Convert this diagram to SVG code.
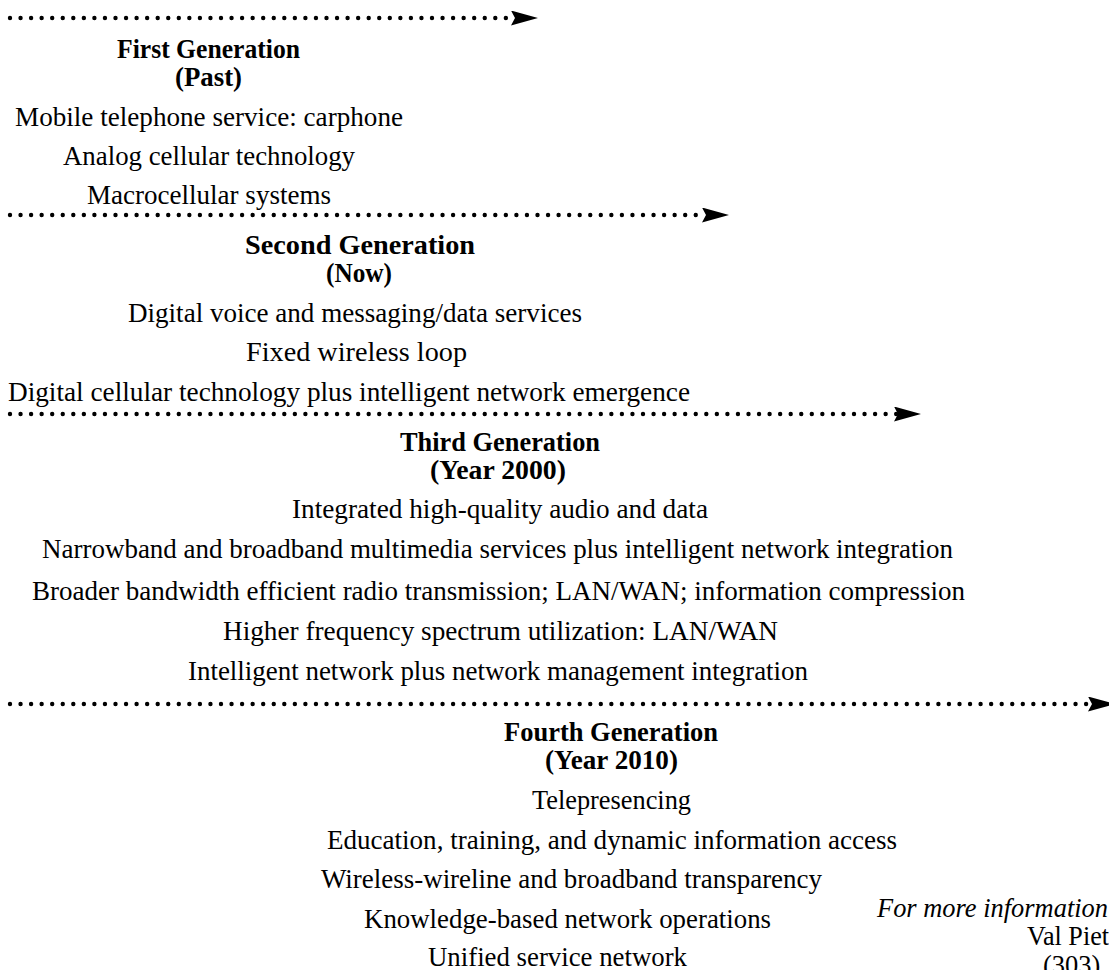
<svg xmlns="http://www.w3.org/2000/svg" width="1109" height="970" viewBox="0 0 1109 970">
  <defs>
    <marker id="head" markerUnits="userSpaceOnUse" markerWidth="27" markerHeight="15" viewBox="0 0 27 15" refX="4" refY="7.5" orient="auto">
      <path d="M0,0 L27,7.5 L0,15 L4,7.5 Z" fill="#000"/>
    </marker>
    <style>
      .timeline { fill: none; stroke: #000; stroke-width: 4.4; stroke-linecap: round; stroke-dasharray: 0 10.55; marker-end: url(#head); }
      text { font-family: "Liberation Serif", "Times New Roman", serif; font-size: 26.5px; fill: #000; }
      .head { font-weight: bold; }
      .note { font-style: italic; }
    </style>
  </defs>
  <rect width="1109" height="970" fill="#fff"/>

  <!-- dotted timeline arrows separating the generations -->
  <g id="connectors">
    <path class="timeline" d="M10,18 L515,18"/>
    <path class="timeline" d="M10,215 L706,215"/>
    <path class="timeline" d="M10,414 L898,414"/>
    <path class="timeline" d="M10,704 L1092,704"/>
  </g>

  <g id="gen1">
    <text class="head" x="117" y="58" textLength="183" lengthAdjust="spacingAndGlyphs">First Generation</text>
    <text class="head" x="175" y="86" textLength="67" lengthAdjust="spacingAndGlyphs">(Past)</text>
    <text x="15" y="126" textLength="388" lengthAdjust="spacingAndGlyphs">Mobile telephone service: carphone</text>
    <text x="63" y="165" textLength="292" lengthAdjust="spacingAndGlyphs">Analog cellular technology</text>
    <text x="87" y="204" textLength="244" lengthAdjust="spacingAndGlyphs">Macrocellular systems</text>
  </g>

  <g id="gen2">
    <text class="head" x="245" y="254" textLength="230" lengthAdjust="spacingAndGlyphs">Second Generation</text>
    <text class="head" x="326" y="282" textLength="66" lengthAdjust="spacingAndGlyphs">(Now)</text>
    <text x="128" y="322" textLength="454" lengthAdjust="spacingAndGlyphs">Digital voice and messaging/data services</text>
    <text x="246" y="361" textLength="221" lengthAdjust="spacingAndGlyphs">Fixed wireless loop</text>
    <text x="8" y="401" textLength="682" lengthAdjust="spacingAndGlyphs">Digital cellular technology plus intelligent network emergence</text>
  </g>

  <g id="gen3">
    <text class="head" x="400" y="451" textLength="200" lengthAdjust="spacingAndGlyphs">Third Generation</text>
    <text class="head" x="430" y="479" textLength="136" lengthAdjust="spacingAndGlyphs">(Year 2000)</text>
    <text x="292" y="518" textLength="416" lengthAdjust="spacingAndGlyphs">Integrated high-quality audio and data</text>
    <text x="42" y="558" textLength="911" lengthAdjust="spacingAndGlyphs">Narrowband and broadband multimedia services plus intelligent network integration</text>
    <text x="32" y="600" textLength="933" lengthAdjust="spacingAndGlyphs">Broader bandwidth efficient radio transmission; LAN/WAN; information compression</text>
    <text x="223" y="640" textLength="555" lengthAdjust="spacingAndGlyphs">Higher frequency spectrum utilization: LAN/WAN</text>
    <text x="188" y="680" textLength="620" lengthAdjust="spacingAndGlyphs">Intelligent network plus network management integration</text>
  </g>

  <g id="gen4">
    <text class="head" x="504" y="741" textLength="214" lengthAdjust="spacingAndGlyphs">Fourth Generation</text>
    <text class="head" x="545" y="769" textLength="133" lengthAdjust="spacingAndGlyphs">(Year 2010)</text>
    <text x="532" y="809" textLength="159" lengthAdjust="spacingAndGlyphs">Telepresencing</text>
    <text x="327" y="849" textLength="570" lengthAdjust="spacingAndGlyphs">Education, training, and dynamic information access</text>
    <text x="321" y="888" textLength="501" lengthAdjust="spacingAndGlyphs">Wireless-wireline and broadband transparency</text>
    <text x="364" y="928" textLength="407" lengthAdjust="spacingAndGlyphs">Knowledge-based network operations</text>
    <text x="428" y="966" textLength="259" lengthAdjust="spacingAndGlyphs">Unified service network</text>
  </g>

  <g id="contact">
    <text class="note" x="877" y="917" textLength="231" lengthAdjust="spacingAndGlyphs">For more information</text>
    <text x="1027" y="945" textLength="82" lengthAdjust="spacingAndGlyphs">Val Piet</text>
    <text x="1043" y="974">(303)</text>
  </g>
</svg>
